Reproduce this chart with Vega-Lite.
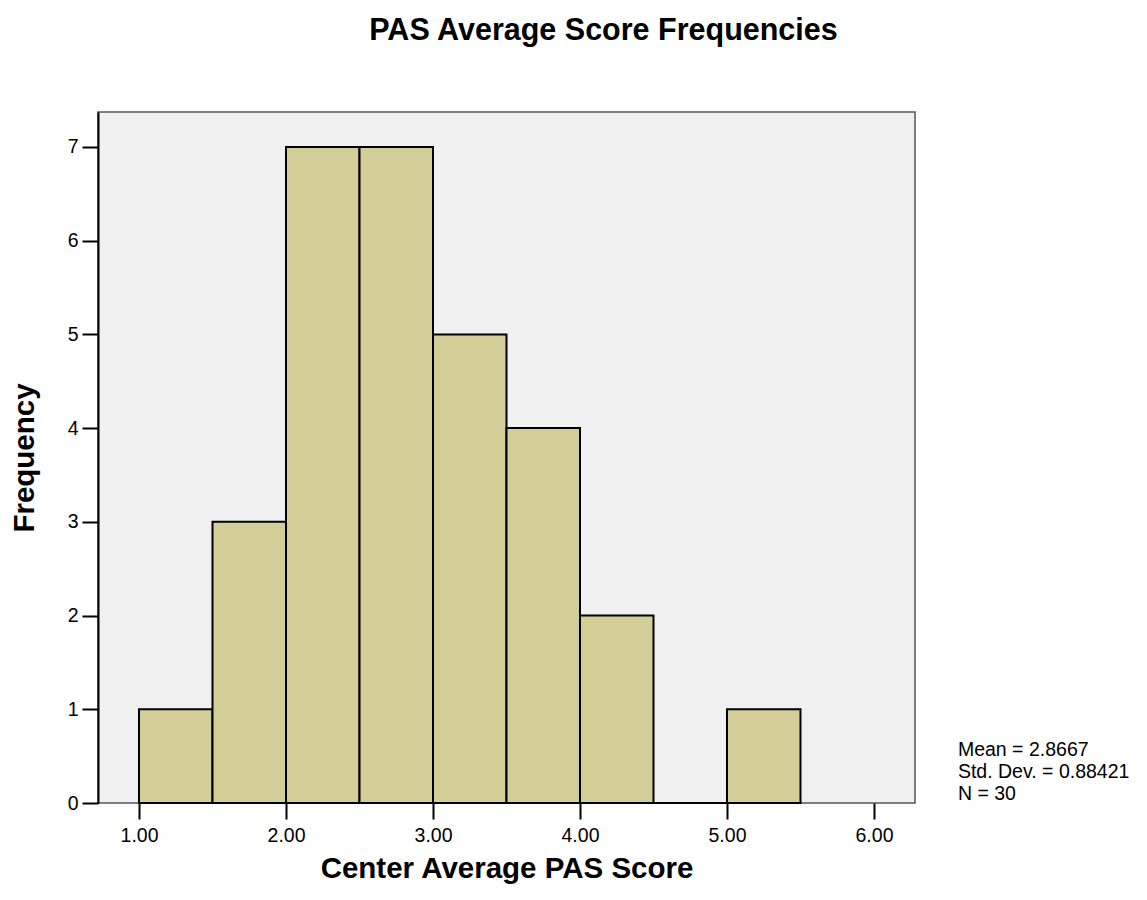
{
  "$schema": "https://vega.github.io/schema/vega-lite/v6.json",
  "width": 817,
  "height": 691,
  "autosize": {"type": "none"},
  "padding": {"left": 98, "top": 112, "right": 232, "bottom": 97},
  "background": "white",
  "config": {
    "font": "Liberation Sans",
    "view": {"fill": "#f0f0f0", "stroke": "#555555", "strokeWidth": 1.5}
  },
  "title": {
    "text": "PAS Average Score Frequencies",
    "font": "Liberation Sans",
    "fontSize": 30.5,
    "fontWeight": "bold",
    "color": "black",
    "anchor": "middle",
    "frame": "group",
    "baseline": "alphabetic",
    "dx": 97,
    "offset": 42
  },
  "datasets": {
    "bins": [
      {"bin_start": 1.0, "bin_end": 1.5, "count": 1},
      {"bin_start": 1.5, "bin_end": 2.0, "count": 3},
      {"bin_start": 2.0, "bin_end": 2.5, "count": 7},
      {"bin_start": 2.5, "bin_end": 3.0, "count": 7},
      {"bin_start": 3.0, "bin_end": 3.5, "count": 5},
      {"bin_start": 3.5, "bin_end": 4.0, "count": 4},
      {"bin_start": 4.0, "bin_end": 4.5, "count": 2},
      {"bin_start": 4.5, "bin_end": 5.0, "count": 0},
      {"bin_start": 5.0, "bin_end": 5.5, "count": 1}
    ],
    "stats": [
      {"x": 6.571, "y": 0.5015, "label": ["Mean = 2.8667", "Std. Dev. = 0.88421", "N = 30"]}
    ]
  },
  "layer": [
    {
      "data": {"name": "bins"},
      "mark": {"type": "rect", "fill": "#d3ce98", "stroke": "black", "strokeWidth": 2},
      "encoding": {
        "x": {
          "field": "bin_start",
          "type": "quantitative",
          "scale": {"domain": [0.721, 6.279], "nice": false, "zero": false},
          "axis": {
            "title": "Center Average PAS Score",
            "values": [1, 2, 3, 4, 5, 6],
            "format": ".2f",
            "grid": false,
            "domain": false,
            "tickColor": "black",
            "tickWidth": 2,
            "tickSize": 16,
            "labelFont": "Liberation Sans",
            "labelFontSize": 19.5,
            "labelColor": "black",
            "labelPadding": 7,
            "titleFont": "Liberation Sans",
            "titleFontSize": 29.5,
            "titleFontWeight": "bold",
            "titleColor": "black",
            "titlePadding": 10
          }
        },
        "x2": {"field": "bin_end"},
        "y": {
          "field": "count",
          "type": "quantitative",
          "scale": {"domain": [0, 7.373], "nice": false},
          "axis": {
            "title": "Frequency",
            "values": [0, 1, 2, 3, 4, 5, 6, 7],
            "format": "d",
            "grid": false,
            "domain": true,
            "domainColor": "black",
            "domainWidth": 2,
            "tickColor": "black",
            "tickWidth": 2,
            "tickSize": 16,
            "labelFont": "Liberation Sans",
            "labelFontSize": 19.5,
            "labelColor": "black",
            "labelPadding": 4,
            "titleFont": "Liberation Sans",
            "titleFontSize": 29.5,
            "titleFontWeight": "bold",
            "titleColor": "black",
            "titlePadding": 28
          }
        },
        "y2": {"datum": 0}
      }
    },
    {
      "data": {"name": "stats"},
      "mark": {
        "type": "text",
        "align": "left",
        "baseline": "alphabetic",
        "font": "Liberation Sans",
        "fontSize": 19.5,
        "lineHeight": 22,
        "color": "black"
      },
      "encoding": {
        "x": {"field": "x", "type": "quantitative"},
        "y": {"field": "y", "type": "quantitative"},
        "text": {"field": "label"}
      }
    }
  ]
}
